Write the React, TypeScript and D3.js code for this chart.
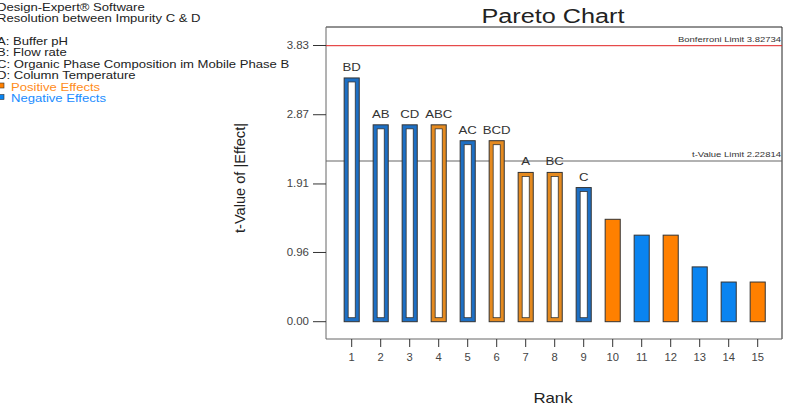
import React from "react";
import * as d3 from "d3";

// effects in rank order
const ranks = ["1", "2", "3", "4", "5", "6", "7", "8", "9", "10", "11", "12", "13", "14", "15"];
const effectTerms = ["BD", "AB", "CD", "ABC", "AC", "BCD", "A", "BC", "C", "", "", "", "", "", ""];
const tValues = [3.38, 2.73, 2.73, 2.73, 2.51, 2.51, 2.07, 2.07, 1.86, 1.42, 1.2, 1.2, 0.76, 0.55, 0.55];
const effectSign = ["-", "-", "-", "+", "-", "+", "+", "+", "-", "+", "-", "+", "-", "-", "+"];
const yTicks = [0, 0.96, 1.91, 2.87, 3.83];
const bonferroniLimit = 3.82734;
const tValueLimit = 2.22814;

const infoLines = [
  "Design-Expert® Software",
  "Resolution between Impurity C & D",
  "",
  "A: Buffer pH",
  "B: Flow rate",
  "C: Organic Phase Composition im Mobile Phase B",
  "D: Column Temperature",
];

const width = 789,
  height = 412;
const plot = { left: 326, right: 782, top: 27, bottom: 339 };

// the source picture is stretched sideways a bit, so text is widened with a scale
const SText = ({ x, y, sx = 1.2, children, ...rest }: any) => (
  <text transform={`translate(${x},${y}) scale(${sx},1)`} {...rest}>
    {children}
  </text>
);

export default function App() {
  const y = d3.scaleLinear().domain([0, 3.83]).range([321.7, 45.5]);
  const x = d3.scaleBand().domain(ranks).range([337.2, 772.2]).paddingInner(0.48).paddingOuter(0.24);
  const bw = x.bandwidth();

  const font = "'Liberation Sans', Arial, sans-serif";

  return (
    <svg width={width} height={height} style={{ position: "absolute", left: 0, top: 0, fontFamily: font }}>
      <rect width={width} height={height} fill="#fff" />

      {/* info block top left (cut at the left edge like the original) */}
      {infoLines.map((t, i) => (
        <SText key={i} x={-3} y={11 + i * 11.3} sx={1.19} fontSize={11} fill="#222">
          {t}
        </SText>
      ))}
      <rect x={-1} y={83} width={5} height={5} fill="#ff8000" stroke="#333" strokeWidth={0.6} />
      <SText x={11} y={90.5} sx={1.19} fontSize={11} fill="#ff8c1a">Positive Effects</SText>
      <rect x={-1} y={94.5} width={5} height={5} fill="#0a84f0" stroke="#333" strokeWidth={0.6} />
      <SText x={11} y={101.8} sx={1.19} fontSize={11} fill="#1a8cff">Negative Effects</SText>

      <text x={553} y={23} textAnchor="middle" fontSize={20} textLength={143} lengthAdjust="spacingAndGlyphs" fill="#222">
        Pareto Chart
      </text>

      {/* plot frame */}
      <line x1={plot.left} x2={plot.right} y1={plot.top} y2={plot.top} stroke="#222" strokeWidth={1} />
      <line x1={plot.right} x2={plot.right} y1={plot.top} y2={plot.bottom} stroke="#222" strokeWidth={1} />
      <line x1={plot.left} x2={plot.left} y1={plot.top} y2={plot.bottom} stroke="#666" strokeWidth={1} />
      <line x1={plot.left} x2={plot.right} y1={plot.bottom} y2={plot.bottom} stroke="#666" strokeWidth={1} />

      {/* y axis */}
      {yTicks.map((t) => (
        <g key={t}>
          <line x1={313} x2={plot.left} y1={y(t)} y2={y(t)} stroke="#333" />
          <SText x={309} y={y(t) + 3.5} sx={1.15} textAnchor="end" fontSize={10} fill="#444">
            {t.toFixed(2)}
          </SText>
        </g>
      ))}
      <text transform={`translate(245,178) rotate(-90)`} textAnchor="middle" fontSize={14} textLength={110} lengthAdjust="spacingAndGlyphs" fill="#222">
        t-Value of |Effect|
      </text>

      {/* x axis */}
      {ranks.map((r) => {
        const cx = (x(r) as number) + bw / 2;
        return (
          <g key={r}>
            <line x1={cx} x2={cx} y1={plot.bottom} y2={plot.bottom + 8} stroke="#333" />
            <SText x={cx} y={361} sx={1.12} textAnchor="middle" fontSize={10} fill="#444">
              {r}
            </SText>
          </g>
        );
      })}
      <SText x={553} y={403} sx={1.2} textAnchor="middle" fontSize={14} fill="#222">
        Rank
      </SText>

      {/* limit lines */}
      <line x1={plot.left} x2={plot.right} y1={y(bonferroniLimit)} y2={y(bonferroniLimit)} stroke="#e02020" strokeWidth={1} />
      <text x={plot.right - 1} y={y(bonferroniLimit) - 4} textAnchor="end" fontSize={8} textLength={103} lengthAdjust="spacingAndGlyphs" fill="#333">
        Bonferroni Limit {bonferroniLimit}
      </text>
      <line x1={plot.left} x2={plot.right} y1={y(tValueLimit)} y2={y(tValueLimit)} stroke="#666" strokeWidth={1.2} />
      <text x={plot.right - 1} y={y(tValueLimit) - 4} textAnchor="end" fontSize={8} textLength={89} lengthAdjust="spacingAndGlyphs" fill="#333">
        t-Value Limit {tValueLimit}
      </text>

      {/* bars */}
      {tValues.map((v, i) => {
        const bx = x(ranks[i]) as number;
        const top = y(v);
        const bottom = y(0);
        const pos = effectSign[i] === "+";
        const hollow = effectTerms[i] !== "";
        if (hollow) {
          const col = pos ? "#e58a1f" : "#1d6fc4";
          return (
            <g key={i}>
              <rect x={bx} y={top} width={bw} height={bottom - top} fill={col} stroke="#333" strokeWidth={1} />
              <rect x={bx + 4} y={top + 4} width={bw - 8} height={bottom - top - 8} fill="#fff" stroke="#333" strokeWidth={0.8} />
              <SText x={bx + bw / 2} y={top - 7} sx={1.2} textAnchor="middle" fontSize={11} fill="#333">
                {effectTerms[i]}
              </SText>
            </g>
          );
        }
        return (
          <rect
            key={i}
            x={bx}
            y={top}
            width={bw}
            height={bottom - top}
            fill={pos ? "#ff8000" : "#0a84f0"}
            stroke="#333"
            strokeWidth={1}
          />
        );
      })}
    </svg>
  );
}
